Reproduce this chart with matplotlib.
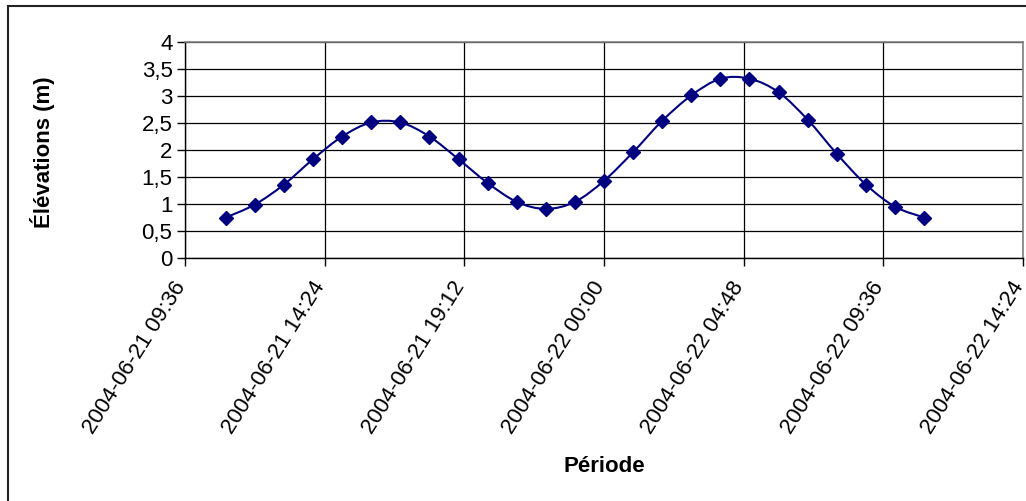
import numpy as np
import matplotlib
matplotlib.use("Agg")
import matplotlib.pyplot as plt
import matplotlib.dates as mdates
import matplotlib.transforms as mtransforms
from matplotlib.path import Path
from matplotlib.patches import PathPatch, Rectangle
from matplotlib.ticker import FuncFormatter, MultipleLocator
import datetime as dt

plt.rcParams['font.family'] = ['Liberation Sans', 'DejaVu Sans']

# ---- data ----
start_time = dt.datetime(2004, 6, 21, 11, 0)
times = [start_time + dt.timedelta(hours=h) for h in range(25)]
elevations = [0.75, 0.99, 1.36, 1.83, 2.25, 2.51, 2.51, 2.25, 1.83, 1.39,
              1.04, 0.91, 1.04, 1.43, 1.96, 2.54, 3.01, 3.32, 3.32, 3.07,
              2.56, 1.93, 1.36, 0.95, 0.75]
x_start = dt.datetime(2004, 6, 21, 9, 36)
x_end = dt.datetime(2004, 6, 22, 14, 24)
x_step = dt.timedelta(hours=4, minutes=48)
y_label = "Élévations (m)"
x_label = "Période"

W, H = 1026, 501
fig = plt.figure(figsize=(W / 100, H / 100), dpi=100)
ax = fig.add_axes([185 / W, 1 - 258 / H, (1023 - 185) / W, (258 - 42) / H])

xn = mdates.date2num(times)
yv = np.array(elevations)

# smoothed line (Catmull-Rom style Bezier, like Excel "smoothed line")
verts = [(xn[0], yv[0])]
codes = [Path.MOVETO]
n = len(xn)
for i in range(n - 1):
    p0 = np.array([xn[max(i - 1, 0)], yv[max(i - 1, 0)]])
    p1 = np.array([xn[i], yv[i]])
    p2 = np.array([xn[i + 1], yv[i + 1]])
    p3 = np.array([xn[min(i + 2, n - 1)], yv[min(i + 2, n - 1)]])
    c1 = p1 + (p2 - p0) / 6.0
    c2 = p2 - (p3 - p1) / 6.0
    verts += [tuple(c1), tuple(c2), tuple(p2)]
    codes += [Path.CURVE4] * 3
ax.add_patch(PathPatch(Path(verts, codes), facecolor='none', edgecolor='#000080',
                       lw=1.5, zorder=3))
ax.plot(times, elevations, linestyle='none', marker='D', markersize=7,
        color='#000080', zorder=4)

ax.set_xlim(mdates.date2num(x_start), mdates.date2num(x_end))
ax.set_ylim(0, 4)
ticks = []
t = x_start
while t <= x_end:
    ticks.append(t)
    t += x_step
ax.set_xticks(mdates.date2num(ticks))
ax.set_xticklabels([])
lab_tr = ax.get_xaxis_transform() + mtransforms.ScaledTranslation(
    -4 / 100, -25 / 100, fig.dpi_scale_trans)
for tt in ticks:
    ax.text(mdates.date2num(tt), 0, tt.strftime("%Y-%m-%d %H:%M"),
            transform=lab_tr, rotation=58, ha='right', va='center',
            rotation_mode='anchor', fontsize=16, clip_on=False)
ax.yaxis.set_major_locator(MultipleLocator(0.5))
ax.yaxis.set_major_formatter(FuncFormatter(lambda v, p: ("%g" % v).replace('.', ',')))
ax.tick_params(axis='y', labelsize=16, length=6, width=1, pad=3, direction='out')
ax.tick_params(axis='x', length=6, width=1, direction='out')

ax.grid(True, color='black', lw=0.9)
ax.set_axisbelow(True)
for s in ['top', 'right']:
    ax.spines[s].set_color('#808080')
    ax.spines[s].set_linewidth(1.2)
for s in ['left', 'bottom']:
    ax.spines[s].set_color('black')
    ax.spines[s].set_linewidth(1.0)

fig.text(43 / W, 1 - 152 / H, y_label, rotation=90, ha='center', va='center',
         fontsize=16, fontweight='bold')
fig.text(604 / W, 1 - 466 / H, x_label, ha='center', va='center',
         fontsize=16, fontweight='bold')

fig.patches.append(Rectangle((8 / W, -0.05), 1.2, 1 - 6 / H + 0.05,
                             transform=fig.transFigure, fill=False,
                             edgecolor='#222222', lw=1.5, figure=fig))

fig.savefig("out.png", dpi=100)
